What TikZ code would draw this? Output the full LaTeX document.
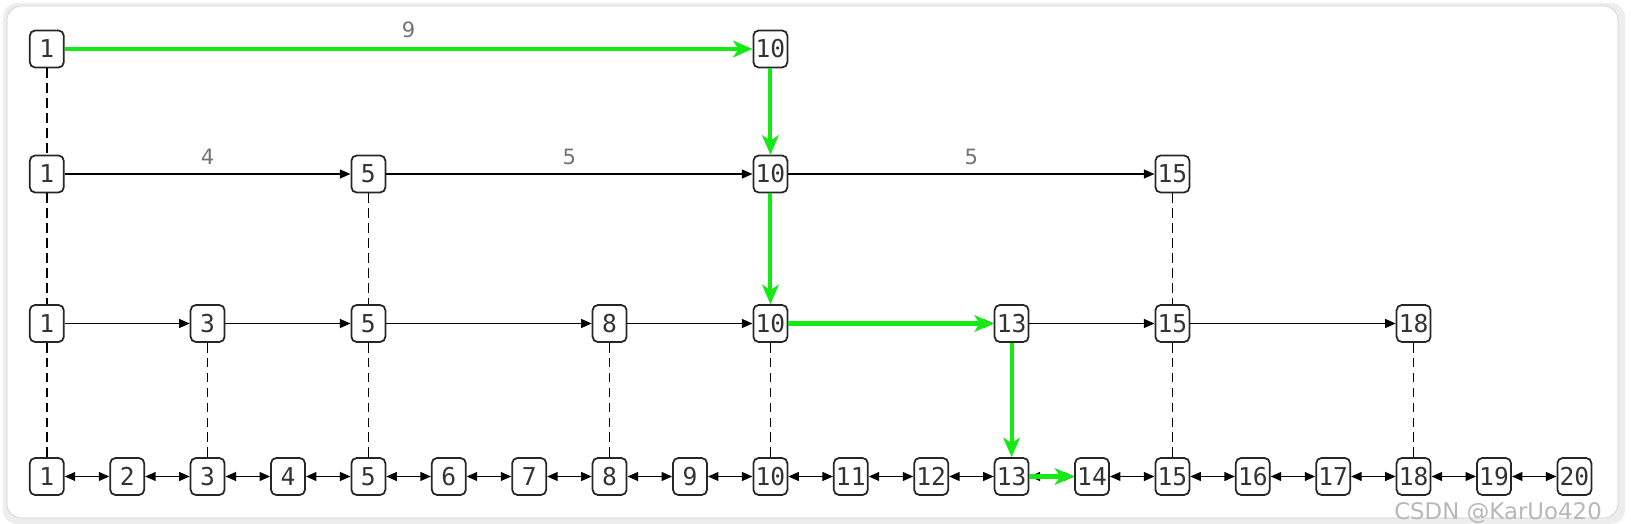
\documentclass[tikz,border=0pt]{standalone}
\usepackage{fontspec}
\setmonofont{DejaVu Sans Mono}
\setsansfont{DejaVu Sans}
\usepackage{tikz}
\usetikzlibrary{arrows.meta,calc,positioning}
\definecolor{verde}{RGB}{20,235,20}

\tikzset{
  cella/.style={draw=black!85, line width=1pt, rounded corners=3pt, fill=white,
    minimum width=0.68cm, minimum height=0.74cm, inner sep=1pt, text=black!80,
    font=\fontsize{14}{14}\selectfont\ttfamily},
  freccia/.style={line width=0.95pt, -{Triangle[length=6pt,width=5pt]}},
  doppia/.style={line width=0.95pt, {Triangle[length=6pt,width=5pt]}-{Triangle[length=6pt,width=5pt]}},
  salto/.style={verde, line width=2.3pt, -{Stealth[length=11pt,width=9.5pt,inset=3pt]}},
  indice/.style={line width=0.9pt, dash pattern=on 5.5pt off 3pt},
  peso/.style={font=\fontsize{12}{12}\selectfont\sffamily, text=black!55, inner sep=0pt},
}

\begin{document}
\begin{tikzpicture}

\useasboundingbox (0,0) rectangle (32.62,10.48);
% cornice
\fill[black!7, rounded corners=8pt] (0.06,0.0) rectangle (32.50,10.42);
\draw[black!18, fill=white, rounded corners=8pt] (0.14,0.12) rectangle (32.36,10.36);

% --- Livello 3: lista completa ---
\node[cella] (l3n1) at (0.936,0.95) {1}; \node[cella] (l3n2) at (2.544,0.95) {2};
\node[cella] (l3n3) at (4.152,0.95) {3}; \node[cella] (l3n4) at (5.760,0.95) {4};
\node[cella] (l3n5) at (7.368,0.95) {5}; \node[cella] (l3n6) at (8.976,0.95) {6};
\node[cella] (l3n7) at (10.584,0.95) {7}; \node[cella] (l3n8) at (12.192,0.95) {8};
\node[cella] (l3n9) at (13.800,0.95) {9}; \node[cella] (l3n10) at (15.408,0.95) {10};
\node[cella] (l3n11) at (17.016,0.95) {11}; \node[cella] (l3n12) at (18.624,0.95) {12};
\node[cella] (l3n13) at (20.232,0.95) {13}; \node[cella] (l3n14) at (21.840,0.95) {14};
\node[cella] (l3n15) at (23.448,0.95) {15}; \node[cella] (l3n16) at (25.056,0.95) {16};
\node[cella] (l3n17) at (26.664,0.95) {17}; \node[cella] (l3n18) at (28.272,0.95) {18};
\node[cella] (l3n19) at (29.880,0.95) {19}; \node[cella] (l3n20) at (31.488,0.95) {20};

% --- Livello 2 ---
\node[cella] (l2n1) at (0.936,4.01) {1}; \node[cella] (l2n3) at (4.152,4.01) {3};
\node[cella] (l2n5) at (7.368,4.01) {5}; \node[cella] (l2n8) at (12.192,4.01) {8};
\node[cella] (l2n10) at (15.408,4.01) {10}; \node[cella] (l2n13) at (20.232,4.01) {13};
\node[cella] (l2n15) at (23.448,4.01) {15}; \node[cella] (l2n18) at (28.272,4.01) {18};

% --- Livello 1 ---
\node[cella] (l1n1) at (0.936,7.00) {1}; \node[cella] (l1n5) at (7.368,7.00) {5};
\node[cella] (l1n10) at (15.408,7.00) {10}; \node[cella] (l1n15) at (23.448,7.00) {15};

% --- Livello 0 ---
\node[cella] (l0n1) at (0.936,9.50) {1}; \node[cella] (l0n10) at (15.408,9.50) {10};

% collegamenti doppi in basso
\draw[doppia] (l3n1) -- (l3n2); \draw[doppia] (l3n2) -- (l3n3); \draw[doppia] (l3n3) -- (l3n4);
\draw[doppia] (l3n4) -- (l3n5); \draw[doppia] (l3n5) -- (l3n6); \draw[doppia] (l3n6) -- (l3n7);
\draw[doppia] (l3n7) -- (l3n8); \draw[doppia] (l3n8) -- (l3n9); \draw[doppia] (l3n9) -- (l3n10);
\draw[doppia] (l3n10) -- (l3n11); \draw[doppia] (l3n11) -- (l3n12); \draw[doppia] (l3n12) -- (l3n13);
\draw[doppia] (l3n13) -- (l3n14); \draw[doppia] (l3n14) -- (l3n15); \draw[doppia] (l3n15) -- (l3n16);
\draw[doppia] (l3n16) -- (l3n17); \draw[doppia] (l3n17) -- (l3n18); \draw[doppia] (l3n18) -- (l3n19);
\draw[doppia] (l3n19) -- (l3n20);

% indice livello 2
\draw[freccia] (l2n1) -- (l2n3); \draw[freccia] (l2n3) -- (l2n5); \draw[freccia] (l2n5) -- (l2n8);
\draw[freccia] (l2n8) -- (l2n10); \draw[freccia] (l2n10) -- (l2n13); \draw[freccia] (l2n13) -- (l2n15);
\draw[freccia] (l2n15) -- (l2n18);

% indice livello 1 con distanze
\draw[freccia] (l1n1) -- node[peso, midway, above=5pt] {4} (l1n5);
\draw[freccia] (l1n5) -- node[peso, midway, above=5pt] {5} (l1n10);
\draw[freccia] (l1n10) -- node[peso, midway, above=5pt] {5} (l1n15);

% collegamenti verticali tratteggiati
\draw[indice] (l0n1) -- (l1n1); \draw[indice] (l1n1) -- (l2n1); \draw[indice] (l2n1) -- (l3n1);
\draw[indice] (l2n3) -- (l3n3);
\draw[indice] (l1n5) -- (l2n5); \draw[indice] (l2n5) -- (l3n5);
\draw[indice] (l2n8) -- (l3n8);
\draw[indice] (l2n10) -- (l3n10);
\draw[indice] (l1n15) -- (l2n15); \draw[indice] (l2n15) -- (l3n15);
\draw[indice] (l2n18) -- (l3n18);

% Percorso di ricerca (verde)
\draw[salto] (l0n1) -- node[peso, midway, above=5pt] {9} (l0n10);
\draw[salto] (l0n10) -- (l1n10);
\draw[salto] (l1n10) -- (l2n10);
\draw[salto] (l2n10) -- (l2n13);
\draw[salto] (l2n13) -- (l3n13);
\draw[salto] (l3n13) -- (l3n14);

% filigrana
\node[font=\fontsize{13}{13}\selectfont\sffamily, text=black!28, anchor=north] (marca)
      at (29.96,0.56) {CSDN @KarUo420};

\end{tikzpicture}
\end{document}
